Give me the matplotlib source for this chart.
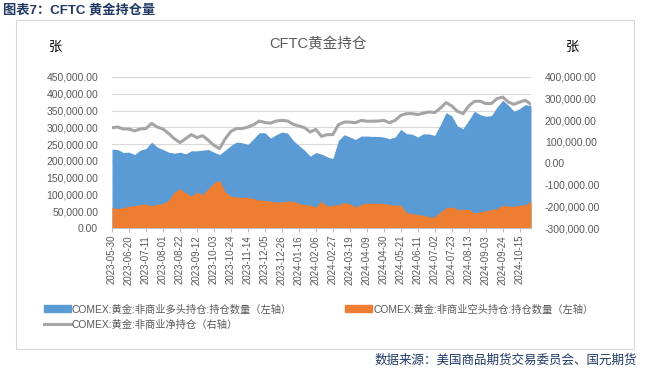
import matplotlib
matplotlib.use("Agg")
import matplotlib.pyplot as plt
from matplotlib.patches import Patch, Rectangle
from matplotlib.lines import Line2D
from matplotlib.ticker import FuncFormatter
import pandas as pd

plt.rcParams["font.family"] = ["Liberation Sans", "Noto Sans CJK SC"]

# weekly CFTC report dates
dates = pd.date_range("2023-05-30", periods=75, freq="7D")

# COMEX gold, non-commercial long (contracts)
long_pos = [235000, 234000, 225000, 226000, 219000, 232000, 237000, 256000, 241000, 234000,
            226000, 223000, 226000, 221000, 230000, 230000, 232000, 234000, 226000,
            219000, 232000, 246000, 256000, 254000, 249000, 266000, 284000, 284000, 268000,
            278000, 286000, 283000, 261000, 246000, 232000, 214000, 225000,
            220000, 212000, 207000, 261000, 278000, 271000, 264000, 274000, 274000, 273000,
            273000, 271000, 266000, 271000, 294000, 281000, 280000, 271000,
            281000, 280000, 276000, 308000, 344000, 334000, 304000, 296000, 321000, 348000,
            338000, 333000, 335000, 360000, 381000, 366000, 348000, 356000, 368000, 364000]

# COMEX gold, non-commercial short (contracts)
short_pos = [61000, 58000, 61000, 65000, 67000, 70000, 71000, 66000, 71000, 73000,
             83000, 107000, 117000, 105000, 95000, 107000, 100000, 117000, 135000,
             142000, 107000, 95000, 92000, 91000, 92000, 88000, 83000, 82000, 80000,
             77000, 78000, 80000, 80000, 73000, 70000, 68000, 63000,
             80000, 65000, 68000, 69000, 76000, 72000, 63000, 70000, 74000, 74000,
             74000, 73000, 70000, 68000, 68000, 46000, 43000, 40000,
             38000, 33000, 34000, 48000, 60000, 63000, 56000, 55000, 56000, 45000,
             48000, 52000, 55000, 58000, 68000, 65000, 65000, 68000, 69000, 80000]

# COMEX gold, non-commercial net (contracts, right axis)
net_pos = [165000, 168000, 159000, 159000, 150000, 159000, 161000, 185000, 168000, 159000,
           138000, 114000, 96000, 114000, 133000, 119000, 128000, 107000, 83000,
           68000, 114000, 148000, 161000, 161000, 168000, 179000, 196000, 189000, 186000,
           196000, 199000, 196000, 181000, 173000, 165000, 145000, 157000,
           125000, 133000, 133000, 179000, 191000, 191000, 188000, 199000, 195000, 195000,
           196000, 199000, 188000, 199000, 222000, 230000, 230000, 226000,
           232000, 238000, 235000, 256000, 281000, 266000, 241000, 230000, 266000, 287000,
           288000, 277000, 277000, 300000, 307000, 284000, 273000, 284000, 292000, 273000]

date_labels = [d.strftime("%Y-%m-%d") for d in dates]
x = list(range(len(dates)))

blue = "#5B9BD5"
orange = "#ED7D31"
grey = "#A5A5A5"
txt = "#595959"
navy = "#1F3864"

fig = plt.figure(figsize=(6.47, 3.72), dpi=100)
ax = fig.add_axes([112 / 647, 1 - 228 / 372, (531 - 112) / 647, (228 - 77) / 372])

ax.fill_between(x, 0, long_pos, color=blue, linewidth=0, zorder=2)
ax.fill_between(x, 0, short_pos, color=orange, linewidth=0, zorder=3)

ax.set_xlim(0, len(x) - 1)
ax.set_ylim(0, 450000)
ax.set_yticks(range(0, 450001, 50000))
fmt = FuncFormatter(lambda v, p: f"{v:,.2f}")
ax.yaxis.set_major_formatter(fmt)
ax.grid(axis="y", color="#D9D9D9", linewidth=0.8, zorder=0)
ax.set_axisbelow(True)
ax.set_xticks(x[::3])
ax.set_xticklabels(date_labels[::3], rotation=90)
ax.tick_params(axis="x", length=3, color="#BFBFBF", labelsize=7, labelcolor=txt, pad=2)
ax.tick_params(axis="y", length=0, labelsize=7.5, labelcolor=txt, pad=10)
for s in ["top", "left", "right"]:
    ax.spines[s].set_visible(False)
ax.spines["bottom"].set_color("#BFBFBF")
ax.spines["bottom"].set_zorder(5)

ax2 = ax.twinx()
ax2.plot(x, net_pos, color=grey, linewidth=2.2, zorder=4, solid_joinstyle="round")
ax2.set_ylim(-300000, 400000)
ax2.set_yticks(range(-300000, 400001, 100000))
ax2.yaxis.set_major_formatter(fmt)
ax2.tick_params(axis="y", length=0, labelsize=7.5, labelcolor=txt, pad=10)
for s in ["top", "left", "right", "bottom"]:
    ax2.spines[s].set_visible(False)

# chart frame and texts
fig.patches.append(Rectangle((16 / 647, 1 - 349 / 372), (634 - 16) / 647, (349 - 20) / 372,
                             transform=fig.transFigure, fill=False, edgecolor="#D9D9D9",
                             linewidth=0.8))
fig.text(3 / 647, 1 - 10 / 372, "图表7：CFTC 黄金持仓量", color=navy, fontsize=9.5,
         fontweight="bold", va="center", ha="left")
fig.text(318 / 647, 1 - 44 / 372, "CFTC黄金持仓", color=txt, fontsize=10.5,
         va="center", ha="center")
fig.text(55 / 647, 1 - 48 / 372, "张", fontsize=9.5, va="center", ha="center")
fig.text(572 / 647, 1 - 48 / 372, "张", fontsize=9.5, va="center", ha="center")
fig.text(637 / 647, 1 - 361 / 372, "数据来源：美国商品期货交易委员会、国元期货", color=navy,
         fontsize=9, va="center", ha="right")

handles = [Patch(color=blue), Line2D([], [], color=grey, linewidth=2.2), Patch(color=orange)]
labels = ["COMEX:黄金:非商业多头持仓:持仓数量（左轴）", "COMEX:黄金:非商业净持仓（右轴）",
          "COMEX:黄金:非商业空头持仓:持仓数量（左轴）"]
fig.legend(handles, labels, loc="upper left", bbox_to_anchor=(44 / 647, 1 - 304 / 372),
           ncol=2, frameon=False, fontsize=7.4, labelcolor=txt, handlelength=2.6,
           handleheight=0.6, handletextpad=0.1, columnspacing=5.2, labelspacing=0.5,
           borderpad=0, borderaxespad=0)

fig.savefig("out.png", dpi=100)
